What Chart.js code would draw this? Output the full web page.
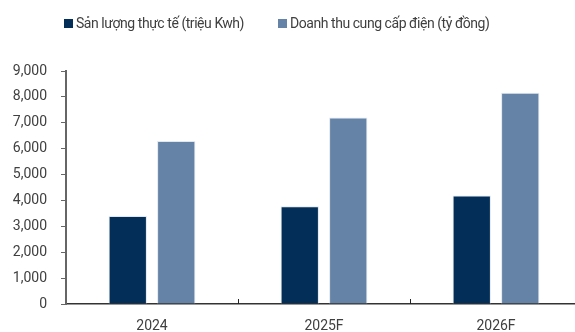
<!DOCTYPE html>
<html lang="vi">
<head>
<meta charset="utf-8">
<script src="https://cdn.jsdelivr.net/npm/chart.js@4"></script>
<style>
  html, body { margin: 0; padding: 0; overflow: hidden; background: #fff; }
  #wrap { position: relative; width: 582px; height: 332px; }
  #legend {
    position: absolute; top: 15px; left: 64px; display: flex;
    font: 14px Roboto, sans-serif; color: #404040; letter-spacing: -0.45px;
  }
  .item { display: flex; align-items: center; margin-right: 34px; white-space: nowrap; }
  .box  { width: 9px; height: 9px; margin-right: 3px; }
</style>
</head>
<body>
<div id="wrap">
  <canvas id="chart" width="582" height="332"></canvas>
  <div id="legend"></div>
</div>
<script>
/* ---- Data ---- */
const categories    = ['2024', '2025F', '2026F'];
const outputValues  = [3400, 3780, 4190];   // Sản lượng thực tế (triệu Kwh)
const revenueValues = [6300, 7200, 8160];   // Doanh thu cung cấp điện (tỷ đồng)
const seriesNames   = ['Sản lượng thực tế (triệu Kwh)', 'Doanh thu cung cấp điện (tỷ đồng)'];
const seriesColors  = ['#022e57', '#6483a7'];
const yMin = 0, yMax = 9000, yStep = 1000;

const FONT = 'Roboto, sans-serif';
const TEXT = '#404040';

/* small upward tick marks between categories on the x axis */
const innerTicks = {
  id: 'innerTicks',
  afterDraw(chart) {
    const xs = chart.scales.x;
    const bottom = chart.chartArea.bottom;
    const ctx = chart.ctx;
    ctx.save();
    ctx.strokeStyle = '#222';
    ctx.lineWidth = 1;
    for (let i = 0; i < categories.length - 1; i++) {
      const px = Math.round((xs.getPixelForTick(i) + xs.getPixelForTick(i + 1)) / 2) + 0.5;
      ctx.beginPath();
      ctx.moveTo(px, bottom - 5);
      ctx.lineTo(px, bottom);
      ctx.stroke();
    }
    ctx.restore();
  },
};

new Chart(document.getElementById('chart'), {
  type: 'bar',
  data: {
    labels: categories,
    datasets: [
      { label: seriesNames[0], data: outputValues,  backgroundColor: seriesColors[0] },
      { label: seriesNames[1], data: revenueValues, backgroundColor: seriesColors[1] },
    ].map(ds => ({
      ...ds,
      borderWidth: 1,
      borderColor: 'rgba(220,228,238,0.9)',
      borderSkipped: 'bottom',
      barPercentage: 0.79,
      categoryPercentage: 0.564,
    })),
  },
  options: {
    responsive: false,
    animation: false,
    layout: { padding: { top: 71, left: 0, right: 0, bottom: 0 } },
    plugins: {
      legend : { display: false },
      tooltip: { enabled: false },
    },
    scales: {
      x: {
        grid  : { display: false },
        border: { display: true, color: '#333', width: 1.5 },
        ticks : { color: TEXT, font: { family: FONT, size: 14 }, padding: 6 },
        afterFit: s => { s.height = 28; },
      },
      y: {
        min: yMin,
        max: yMax,
        grid  : { drawOnChartArea: false, drawTicks: true, tickLength: 5, color: '#666' },
        border: { display: true, color: '#666', width: 2 },
        ticks : {
          stepSize: yStep,
          color: TEXT,
          padding: 14,
          font: { family: FONT, size: 14 },
          callback: v => v.toLocaleString('en-US'),
        },
        afterFit: s => { s.width = 66; },
      },
    },
  },
  plugins: [innerTicks],
});

/* ---- HTML legend ---- */
document.getElementById('legend').innerHTML = seriesNames.map((name, i) => `
  <div class="item"><span class="box" style="background:${seriesColors[i]}"></span>${name}</div>
`).join('');
</script>
</body>
</html>
